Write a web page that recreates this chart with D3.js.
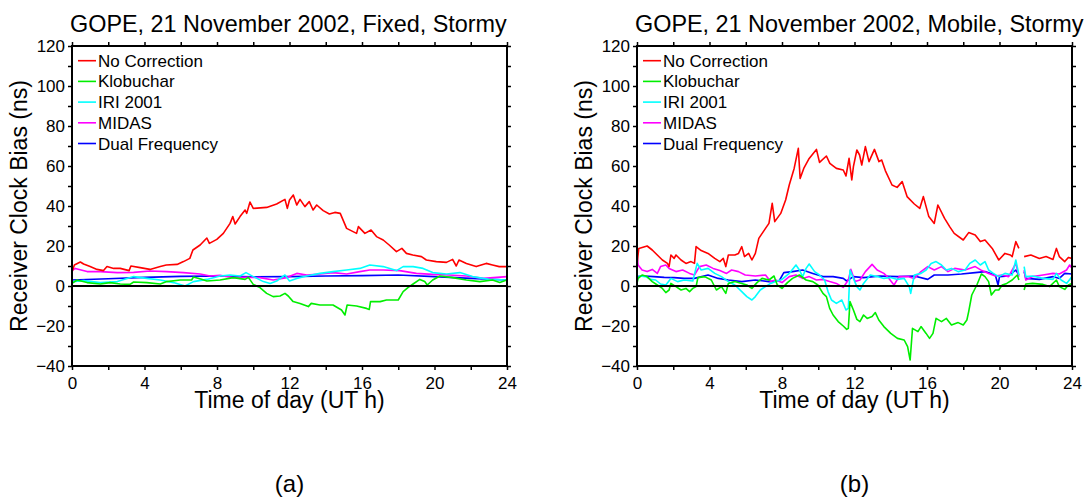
<!DOCTYPE html>
<html>
<head>
<meta charset="utf-8">
<script src="https://cdn.jsdelivr.net/npm/d3@7"></script>
<style>
  body { margin: 0; background: #fff; }
  svg { display: block; font-family: "Liberation Sans", Arial, Helvetica, sans-serif; }
</style>
</head>
<body>
<svg id="chart" width="1091" height="501"></svg>
<script>
// ---- axis ticks ----
const hourTicks = d3.range(0, 25, 2);        // tick every 2 h, labelled every 4 h
const hourLabelStep = 4;
const biasTicks = d3.range(-40, 121, 10);    // tick every 10 ns, labelled every 20 ns
const biasLabelStep = 20;

// ---- series ----
const seriesNames = ["No Correction", "Klobuchar", "IRI 2001", "MIDAS", "Dual Frequency"];
const seriesColors = ["#ff0000", "#00ee00", "#00ffff", "#ff00ff", "#0000ff"];

// Fixed receiver: [UT hour, clock bias ns]
const fixedNoCorrection = [[0,7],[0.13,10.5],[0.46,12],[0.64,11],[1.0,9.7],[1.38,8.3],[1.74,7.7],[1.93,9.7],[2.3,8.8],[2.66,8.8],[3.15,7.7],[3.25,10],[3.76,9.2],[4.3,8.3],[4.87,9.7],[5.2,10.5],[5.8,10.8],[6.15,12.2],[6.5,13.8],[6.67,18],[7.07,20.5],[7.44,24],[7.58,21.3],[7.99,23.3],[8.35,26.3],[8.72,31.3],[8.87,34.7],[9.0,31],[9.27,34.7],[9.55,38],[9.64,36.3],[9.82,42],[10.0,38.8],[10.74,39.3],[11.29,41],[11.75,43.3],[11.88,38.8],[12.0,43],[12.21,45.5],[12.4,40.5],[12.58,43.3],[12.85,39.7],[13.09,42.2],[13.3,38],[13.5,40.5],[13.86,37.7],[14.2,36],[14.5,36.8],[14.8,36.3],[15.15,28.8],[15.7,26.3],[15.8,29.7],[16.16,26.3],[16.5,28],[16.8,24.7],[17.17,23],[17.5,20.5],[17.9,17.2],[18.2,18.8],[18.45,16.3],[18.8,15.5],[19.28,14.7],[19.55,13],[20.1,12.2],[20.66,11.8],[21.0,13.3],[21.2,10],[21.35,13],[21.76,11.3],[22.3,9.7],[22.85,11.3],[23.2,10.5],[23.57,9.7],[24,9.7]];
const fixedKlobuchar = [[0,1.3],[0.28,3],[0.83,1.7],[1.56,1],[2.1,1.7],[2.66,1],[3.2,0.8],[3.4,2],[4.13,1.7],[4.87,1],[5.23,2.2],[5.97,3],[6.6,3],[6.7,4.5],[7.1,3.5],[7.44,2.5],[8.17,3],[8.9,4.2],[9.55,3.3],[9.73,4.3],[10.0,0.8],[10.37,-0.8],[10.74,-3.7],[11.1,-5.3],[11.48,-5],[11.75,-3.7],[11.93,-5],[12.2,-7.8],[12.58,-8.7],[13.04,-10.3],[13.2,-8.7],[13.68,-9.5],[14.4,-9.5],[14.87,-12],[15.06,-14.5],[15.18,-9.5],[15.7,-10],[16.25,-11.2],[16.4,-11.7],[16.47,-7.8],[17.0,-7.8],[17.35,-7],[18.0,-7],[18.27,-2.8],[18.55,-0.7],[18.82,1],[19.19,3.3],[19.46,2.2],[19.6,0.5],[19.9,3],[20.3,5],[21.0,4.2],[21.76,3],[22.5,2.2],[23.2,3],[23.6,1.8],[24,3]];
const fixedIri = [[0,2.2],[0.64,2.7],[1.56,1.7],[2.5,2.2],[3.4,4.7],[4.13,3.8],[4.87,3],[5.6,1.7],[6.24,0],[6.7,2.2],[7.44,3.3],[8.17,5],[8.72,5.5],[9.27,5],[9.6,6.7],[10.0,4.7],[10.56,2.2],[10.93,1.3],[11.29,2.5],[11.75,5.5],[12.0,2.5],[12.4,3.8],[12.95,5],[13.68,6.3],[14.4,7.2],[15.15,8],[15.88,8.8],[16.43,10.5],[17.17,9.7],[17.9,7.7],[18.27,9.7],[18.82,9.7],[19.37,8.8],[19.9,6.7],[20.66,6],[21.4,6.7],[22.1,4.7],[23.0,3.3],[24,3]];
const fixedMidas = [[0,7.7],[0.18,8.8],[0.83,7.2],[1.56,7.2],[2.5,6.7],[3.4,6.8],[4.3,7.5],[5.23,7.2],[6.15,6.7],[7.07,6],[7.62,5],[8.17,5.3],[8.9,4.2],[9.64,4.3],[10.37,4.2],[11.1,3],[11.84,4.2],[12.4,6.3],[12.95,5.5],[13.68,6],[14.4,6.7],[15.15,6],[15.88,7.2],[16.43,8],[17.17,8],[18.08,7.7],[19.0,6.3],[19.9,5.8],[20.8,5.5],[21.76,5],[22.7,3.8],[24,4.7]];
const fixedDual = [[0,3],[2,3.6],[4,4.3],[6,4.8],[8,5],[10,4.6],[12,4.7],[14,5],[16,5.2],[18,5.5],[20,4.7],[22,3.8],[24,3]];

// Mobile receiver: [UT hour, clock bias ns]; null marks the data gap
const mobileNoCorrection = [[0,11],[0.1,18.8],[0.56,20],[0.84,18],[1.12,15.5],[1.4,13],[1.68,11.3],[1.77,9.7],[1.87,15.5],[2.05,13.8],[2.15,15.5],[2.43,13],[2.7,11.3],[2.98,12.2],[3.17,11.3],[3.26,19.7],[3.54,17.7],[3.92,16.3],[4.29,13.8],[4.57,12.2],[4.76,13.8],[4.9,9.7],[5.04,15.5],[5.4,15.5],[5.6,16.3],[5.78,19.7],[5.93,14.7],[6.16,16.3],[6.34,13],[6.53,16.3],[6.72,23.8],[7.09,28.8],[7.28,31.3],[7.46,41.3],[7.6,32.2],[7.93,36.3],[8.2,43],[8.4,50.5],[8.67,58.8],[8.9,68.8],[9.0,53.8],[9.2,58.8],[9.5,63.8],[9.9,68.3],[10.07,61.8],[10.45,65],[10.64,61.3],[11.0,58.8],[11.38,58],[11.53,55],[11.7,63.8],[11.85,53],[11.94,59.7],[12.13,68],[12.28,65.5],[12.4,60.5],[12.6,69.7],[12.8,62.2],[13.1,68.3],[13.35,62.2],[13.5,63],[13.7,57.7],[14.07,50.5],[14.35,49.3],[14.63,52.2],[14.9,44.7],[15.3,41],[15.6,38.8],[15.8,44.7],[16.1,34.7],[16.4,31.3],[16.6,40.5],[16.97,33.8],[17.25,29.7],[17.5,26.3],[18.0,23],[18.3,26.7],[18.66,25.5],[18.94,22.2],[19.2,23],[19.6,18.8],[19.96,13],[20.3,16.3],[20.6,15.5],[20.7,14.7],[20.9,22.2],[21.07,18.8],[21.2,null],[21.36,14.7],[21.73,15.5],[22.2,13.8],[22.57,14.7],[22.95,13.3],[23.14,18.8],[23.3,14.7],[23.6,12.2],[23.8,14.3],[24,13.8]];
const mobileKlobuchar = [[0,1.3],[0.06,3.8],[0.28,5.5],[0.56,4.7],[0.84,2.2],[1.12,0.5],[1.4,-1.2],[1.59,-3.3],[1.77,-2],[1.87,1.3],[2.15,-0.3],[2.43,-2],[2.7,-1.2],[2.9,-2.8],[3.08,-1.2],[3.26,-0.3],[3.36,4.2],[3.73,4.7],[4.1,3],[4.38,-2],[4.66,-0.3],[4.9,-3.7],[5.04,1.3],[5.4,2.2],[5.78,1.3],[6.06,0.5],[6.34,-1.2],[6.62,1.7],[6.9,3.8],[7.28,3],[7.56,5],[7.74,0.5],[8.0,-1.2],[8.3,1.7],[8.58,3.8],[8.96,5.5],[9.33,3],[9.7,2.2],[9.98,0.5],[10.26,-3.7],[10.45,-5.3],[10.63,-11.2],[10.82,-14.5],[11.1,-17.8],[11.38,-20],[11.57,-21.7],[11.66,-21.2],[11.75,-7.8],[11.94,-12],[12.13,-16.7],[12.3,-17.8],[12.5,-14.5],[12.7,-16.2],[12.97,-15.3],[13.15,-13.3],[13.34,-17],[13.62,-20.3],[14.0,-23.7],[14.37,-26.2],[14.74,-27],[14.93,-30.3],[15.07,-37],[15.2,-21.2],[15.5,-22.8],[15.67,-20.3],[15.95,-23.7],[16.14,-26.2],[16.33,-23.7],[16.5,-16.2],[16.8,-17.8],[17.07,-16.2],[17.35,-19.5],[17.72,-18.3],[18.0,-19.5],[18.2,-17],[18.3,-12.8],[18.47,-4.5],[18.75,0.5],[19.0,6],[19.2,4.7],[19.4,2.2],[19.55,-4.5],[19.77,-2],[19.96,-2],[20.15,0.5],[20.4,1.3],[20.7,3],[20.98,5.5],[21.07,3],[21.2,null],[21.36,-2],[21.45,1],[21.83,1.3],[22.4,0.8],[22.76,-0.3],[23.14,3],[23.3,-0.3],[23.6,-1.7],[23.8,0.5],[24,1.3]];
const mobileIri = [[0,3],[0.15,5],[0.47,4.7],[0.75,3.3],[1.03,3],[1.3,1],[1.59,0.5],[1.87,3.8],[2.24,2.2],[2.6,3],[3.08,2.5],[3.32,11.3],[3.54,8],[3.92,8.8],[4.29,6.3],[4.66,4.7],[5.04,2.2],[5.4,0.5],[5.78,-2.8],[6.06,-5.3],[6.34,-7],[6.53,-5.3],[6.8,-2],[7.09,-0.3],[7.37,1.3],[7.65,2.2],[8.0,3.3],[8.4,6.3],[8.77,10.5],[8.96,8],[9.14,4.7],[9.33,8.8],[9.5,11],[9.8,7.2],[10.07,5.5],[10.35,3],[10.54,-2.8],[10.73,-7],[11.0,-8.7],[11.3,-7],[11.53,-12],[11.66,-11.2],[11.75,8],[11.94,3.8],[12.13,-0.3],[12.3,-2],[12.5,1.3],[12.87,5.5],[13.25,4.7],[13.62,3.8],[14.0,4.3],[14.37,3.3],[14.74,3.8],[15.02,-0.3],[15.1,-3.7],[15.3,5.5],[15.67,6.3],[15.95,8],[16.23,11.3],[16.5,12.2],[16.8,10.5],[17.07,8],[17.35,8.8],[17.72,7.2],[18.1,8],[18.36,11.3],[18.66,13],[18.94,10.5],[19.2,12.2],[19.4,8],[19.66,6.3],[19.96,4.7],[20.3,6.3],[20.7,5.5],[20.9,13],[21.07,5.5],[21.2,null],[21.36,9.7],[21.45,4.7],[21.83,5],[22.4,3.8],[22.95,3.3],[23.14,6.3],[23.4,3],[23.7,1.3],[24,4.7]];
const mobileMidas = [[0,16],[0.06,10.5],[0.28,8],[0.56,7.2],[0.84,8.3],[1.12,6.3],[1.3,9.7],[1.59,10.5],[1.77,8.8],[2.15,7.2],[2.52,8],[2.9,6.3],[3.17,5.5],[3.45,9.7],[3.82,10.5],[4.2,8.8],[4.57,7.7],[4.94,6.3],[5.22,8],[5.6,7.2],[5.97,5.5],[6.53,5],[7.09,5.5],[7.37,2.2],[7.65,3],[8.0,1.7],[8.4,4.7],[8.77,5.5],[9.14,3.8],[9.5,4.7],[9.9,3],[10.26,3.3],[10.63,2.2],[11.0,1.3],[11.38,-0.7],[11.66,3],[11.8,8.3],[12.03,2.2],[12.3,3],[12.6,7.2],[12.97,10.8],[13.25,8],[13.62,6.3],[13.9,3.8],[14.18,0.5],[14.46,4.7],[14.93,4.7],[15.3,3.8],[15.67,7.2],[16.04,9.7],[16.4,8],[16.8,9.7],[17.16,7.2],[17.53,8.8],[18.1,8],[18.66,9.7],[19.03,7.7],[19.4,6.3],[19.77,5],[20.15,5.5],[20.5,4.7],[20.9,11.3],[21.07,4.7],[21.2,null],[21.36,8],[21.45,3],[21.83,4.7],[22.4,5.5],[22.95,6.3],[23.3,6],[23.7,8],[23.87,10.5],[24,8.8]];
const mobileDual = [[0,4.7],[0.37,5],[0.93,4.7],[1.5,4.3],[2.05,4.2],[2.6,3.8],[3.17,3.8],[3.92,5.5],[4.48,3.8],[5.04,3],[5.78,2.2],[6.53,3],[7.28,2.2],[7.84,2.5],[8.1,6.7],[8.58,7.2],[9.14,8],[9.7,6.3],[10.26,4.7],[10.82,4.7],[11.38,3.8],[11.57,2.5],[11.94,4.7],[12.5,4.2],[13.43,5],[14.37,4.7],[15.3,5],[16.04,3.3],[16.4,5.5],[17.16,5.5],[17.9,6],[18.66,6.7],[19.2,7.2],[19.77,5.5],[19.92,0.5],[20.0,4.7],[20.5,5],[20.9,8],[21.07,5.5],[21.2,null],[21.36,7.2],[21.45,3.8],[22.2,3.3],[22.95,4.7],[23.3,3.8],[23.6,6.3],[24,6]];

const panels = [
  { left: 72,  title: "GOPE, 21 November 2002, Fixed, Stormy",  tag: "(a)",
    series: [fixedNoCorrection, fixedKlobuchar, fixedIri, fixedMidas, fixedDual] },
  { left: 637, title: "GOPE, 21 November 2002, Mobile, Stormy", tag: "(b)",
    series: [mobileNoCorrection, mobileKlobuchar, mobileIri, mobileMidas, mobileDual] }
];

// ---- layout ----
const plotW = 435, plotTop = 46, plotBottom = 366;
const svg = d3.select("#chart");

panels.forEach((p, pi) => {
  const x = d3.scaleLinear().domain([0, 24]).range([p.left, p.left + plotW]);
  const y = d3.scaleLinear().domain([-40, 120]).range([plotBottom, plotTop]);
  const g = svg.append("g");

  const clipId = "clip" + pi;
  g.append("clipPath").attr("id", clipId).append("rect")
    .attr("x", p.left).attr("y", plotTop).attr("width", plotW).attr("height", plotBottom - plotTop);

  // curves
  const line = d3.line()
    .defined(d => d[1] !== null)
    .x(d => x(d[0])).y(d => y(d[1]));
  const curves = g.append("g").attr("clip-path", `url(#${clipId})`);
  [4, 3, 2, 1, 0].forEach(i => {
    curves.append("path")
      .datum(p.series[i])
      .attr("fill", "none")
      .attr("stroke", seriesColors[i])
      .attr("stroke-width", 1.6)
      .attr("stroke-linejoin", "round")
      .attr("d", line);
  });

  // zero reference
  g.append("line")
    .attr("x1", x(0)).attr("x2", x(24))
    .attr("y1", y(0)).attr("y2", y(0))
    .attr("stroke", "#000").attr("stroke-width", 2);

  // axes: ticks on all four sides, pointing outward
  const fmt = d3.format("d");
  const styleAxis = sel => {
    sel.select(".domain").remove();
    sel.selectAll(".tick line").attr("stroke", "#000").attr("stroke-width", 1.5);
    sel.selectAll(".tick text").attr("fill", "#000").style("font-size", "17px");
  };
  g.append("g").attr("transform", `translate(${p.left},0)`)
    .call(d3.axisLeft(y).tickValues(biasTicks).tickSize(4).tickPadding(3)
      .tickFormat(d => d % biasLabelStep === 0 ? fmt(d) : ""))
    .call(styleAxis);
  g.append("g").attr("transform", `translate(${p.left + plotW},0)`)
    .call(d3.axisRight(y).tickValues(biasTicks).tickSize(4).tickFormat(""))
    .call(styleAxis);
  g.append("g").attr("transform", `translate(0,${plotBottom})`)
    .call(d3.axisBottom(x).tickValues(hourTicks).tickSize(4).tickPadding(7)
      .tickFormat(d => d % hourLabelStep === 0 ? fmt(d) : ""))
    .call(styleAxis);
  g.append("g").attr("transform", `translate(0,${plotTop})`)
    .call(d3.axisTop(x).tickValues(hourTicks).tickSize(4).tickFormat(""))
    .call(styleAxis);

  // frame
  g.append("rect")
    .attr("x", p.left).attr("y", plotTop)
    .attr("width", plotW).attr("height", plotBottom - plotTop)
    .attr("fill", "none").attr("stroke", "#000").attr("stroke-width", 2);

  // legend
  const leg = g.append("g");
  seriesNames.forEach((name, i) => {
    const by = 66.7 + i * 20.7;
    leg.append("line")
      .attr("x1", p.left + 6).attr("x2", p.left + 24)
      .attr("y1", by - 6).attr("y2", by - 6)
      .attr("stroke", seriesColors[i]).attr("stroke-width", 1.6);
    leg.append("text")
      .attr("x", p.left + 26).attr("y", by)
      .style("font-size", "17px").attr("fill", "#000")
      .text(name);
  });

  // titles and axis labels
  g.append("text")
    .attr("x", p.left - 2).attr("y", 31.5)
    .style("font-size", "23.4px").attr("fill", "#000")
    .text(p.title);
  g.append("text")
    .attr("transform", `translate(${p.left - 45},${(plotTop + plotBottom) / 2}) rotate(-90)`)
    .attr("text-anchor", "middle")
    .style("font-size", "23px").attr("fill", "#000")
    .text("Receiver Clock Bias (ns)");
  g.append("text")
    .attr("x", p.left + plotW / 2).attr("y", 408)
    .attr("text-anchor", "middle")
    .style("font-size", "23px").attr("fill", "#000")
    .text("Time of day (UT h)");
  g.append("text")
    .attr("x", p.left + plotW / 2).attr("y", 492)
    .attr("text-anchor", "middle")
    .style("font-size", "24px").attr("fill", "#000")
    .text(p.tag);
});
</script>
</body>
</html>
